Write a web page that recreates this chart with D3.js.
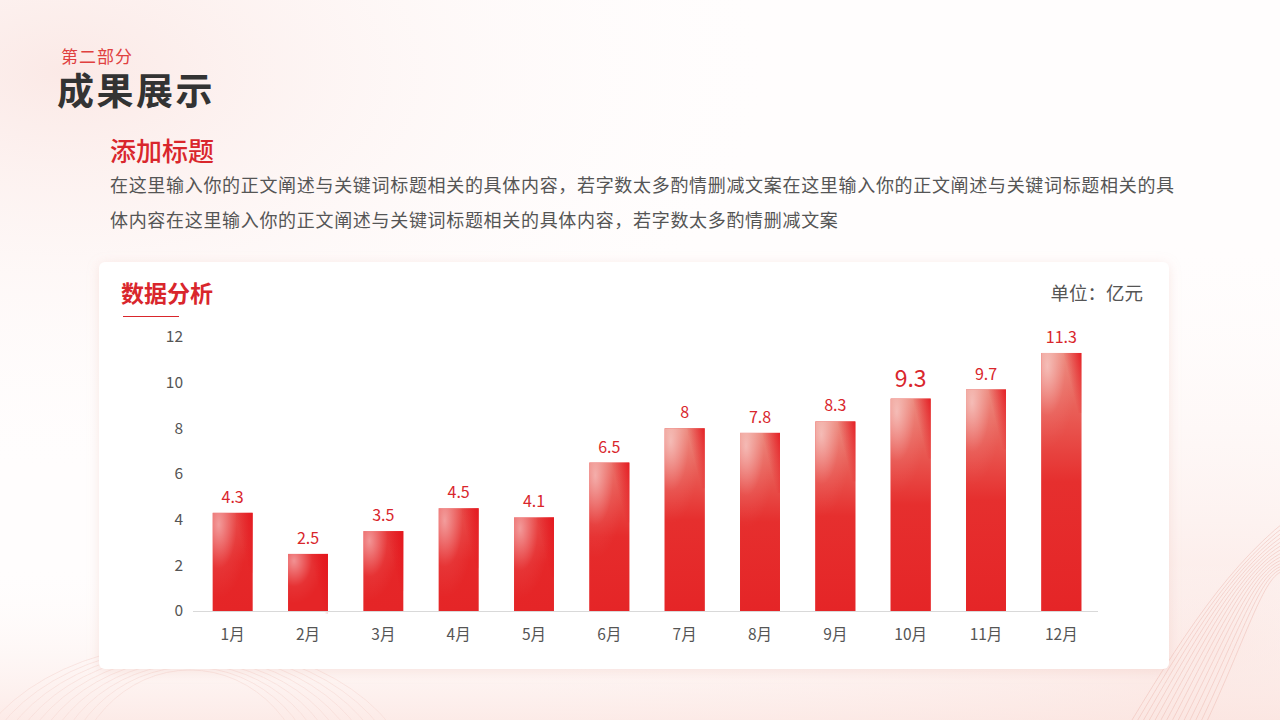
<!DOCTYPE html>
<html><head><meta charset="utf-8">
<script src="https://cdn.jsdelivr.net/npm/d3@7"></script>
<style>
html,body{margin:0;padding:0;width:1280px;height:720px;overflow:hidden;background:#fff;}
svg{display:block;font-family:"Noto Sans CJK SC","Noto Sans",sans-serif;}
</style></head>
<body>
<svg id="c" width="1280" height="720"></svg>
<script>
const categories = ["1月","2月","3月","4月","5月","6月","7月","8月","9月","10月","11月","12月"];
const values = [4.3,2.5,3.5,4.5,4.1,6.5,8,7.8,8.3,9.3,9.7,11.3];
const yTicks = [0,2,4,6,8,10,12];
const bodyLines = [
  "在这里输入你的正文阐述与关键词标题相关的具体内容，若字数太多酌情删减文案在这里输入你的正文阐述与关键词标题相关的具",
  "体内容在这里输入你的正文阐述与关键词标题相关的具体内容，若字数太多酌情删减文案"
];

const svg = d3.select("#c");
const defs = svg.append("defs");

// background glow
const bg = defs.append("radialGradient").attr("id","bgTL").attr("cx","0.05").attr("cy","0.1").attr("r","0.6");
bg.append("stop").attr("offset","0").attr("stop-color","#fbe9e6");
bg.append("stop").attr("offset","1").attr("stop-color","#ffffff").attr("stop-opacity","0");
const bg2 = defs.append("radialGradient").attr("id","bgBR").attr("cx","0.95").attr("cy","0.9").attr("r","0.6");
bg2.append("stop").attr("offset","0").attr("stop-color","#fbe6e2");
bg2.append("stop").attr("offset","1").attr("stop-color","#ffffff").attr("stop-opacity","0");
const bg3 = defs.append("linearGradient").attr("id","bgB").attr("x1","0").attr("y1","0").attr("x2","0").attr("y2","1");
bg3.append("stop").attr("offset","0").attr("stop-color","#fff").attr("stop-opacity","0");
bg3.append("stop").attr("offset","1").attr("stop-color","#fbe3de");

svg.append("rect").attr("width",1280).attr("height",720).attr("fill","#fffdfd");
svg.append("rect").attr("width",1280).attr("height",720).attr("fill","url(#bgTL)");
svg.append("rect").attr("width",1280).attr("height",720).attr("fill","url(#bgBR)");
svg.append("rect").attr("y",560).attr("width",1280).attr("height",160).attr("fill","url(#bgB)").attr("opacity",0.7);

// decorative lines bottom-right
const deco = svg.append("g").attr("fill","none").attr("stroke","#f0c4bc").attr("stroke-width",0.8).attr("opacity",0.8);
for (let i = 0; i < 14; i++) {
  const o = i * 6;
  deco.append("path").attr("d", `M${1120 + o},${740} C${1180 + o},${640 - o*0.3} ${1230 + o*0.5},${560 - o*0.2} ${1300},${510 + o*0.9}`);
}
// concentric arcs bottom-left
const arcs = svg.append("g").attr("fill","none").attr("stroke","#f6dad5").attr("stroke-width",0.8).attr("opacity",0.8);
for (let i = 0; i < 10; i++) {
  arcs.append("ellipse").attr("cx",190).attr("cy",800).attr("rx",120 + i*12).attr("ry",130 + i*3);
}

// header texts
svg.append("text").attr("x",61).attr("y",63).attr("font-size",17).attr("letter-spacing",1).attr("fill","#e0403f").text("第二部分");
svg.append("text").attr("x",57).attr("y",105).attr("font-size",37).attr("font-weight",700).attr("fill","#333").attr("letter-spacing",2.5).text("成果展示");
svg.append("text").attr("x",110).attr("y",161).attr("font-size",26).attr("font-weight",500).attr("fill","#d9262c").text("添加标题");
bodyLines.forEach((t,i)=>{
  svg.append("text").attr("x",110).attr("y",192 + i*35).attr("font-size",18).attr("letter-spacing",0.68).attr("fill","#555").text(t);
});

// card
const sh = defs.append("filter").attr("id","sh").attr("x","-5%").attr("y","-5%").attr("width","110%").attr("height","115%");
sh.append("feDropShadow").attr("dx",0).attr("dy",2).attr("stdDeviation",6).attr("flood-color","#e8b4ab").attr("flood-opacity",0.3);
svg.append("rect").attr("x",99).attr("y",262).attr("width",1070).attr("height",407).attr("rx",6).attr("fill","#fff").attr("filter","url(#sh)");

svg.append("text").attr("x",121).attr("y",302).attr("font-size",23).attr("font-weight",700).attr("fill","#d9262c").text("数据分析");
svg.append("line").attr("x1",123).attr("x2",179).attr("y1",316.5).attr("y2",316.5).attr("stroke","#d9262c").attr("stroke-width",1.2);
svg.append("text").attr("x",1143).attr("y",300).attr("text-anchor","end").attr("font-size",18.5).attr("fill","#555").text("单位：亿元");

// scales
const x = d3.scaleBand().domain(categories).range([195,1099]).paddingInner(0.47).paddingOuter(0.235);
const y = d3.scaleLinear().domain([0,12]).range([611,337]);

// gradients for bars
const lg = defs.append("linearGradient").attr("id","barLin").attr("x1","0").attr("y1","0").attr("x2","0").attr("y2","1");
lg.append("stop").attr("offset","0").attr("stop-color","#ec8e80");
lg.append("stop").attr("offset","0.5").attr("stop-color","#e6302f");
lg.append("stop").attr("offset","1").attr("stop-color","#e52527");
const rg = defs.append("radialGradient").attr("id","barRad").attr("cx","0.15").attr("cy","0.12").attr("r","0.75");
rg.append("stop").attr("offset","0").attr("stop-color","#fff").attr("stop-opacity","0.5");
rg.append("stop").attr("offset","0.6").attr("stop-color","#fff").attr("stop-opacity","0.06");
rg.append("stop").attr("offset","1").attr("stop-color","#fff").attr("stop-opacity","0");
const cg = defs.append("linearGradient").attr("id","barCorner").attr("x1","1").attr("y1","0").attr("x2","0.6").attr("y2","0.15");
cg.append("stop").attr("offset","0").attr("stop-color","#e4141c").attr("stop-opacity","0.9");
cg.append("stop").attr("offset","1").attr("stop-color","#e4141c").attr("stop-opacity","0");

const bars = svg.append("g");
bars.selectAll("rect.base").data(values).join("rect").attr("class","base")
  .attr("x",(d,i)=>x(categories[i])).attr("width",x.bandwidth())
  .attr("y",d=>y(d)).attr("height",d=>y(0)-y(d)).attr("fill","#e52527");
bars.selectAll("rect.lin").data(values).join("rect").attr("class","lin")
  .attr("x",(d,i)=>x(categories[i])).attr("width",x.bandwidth())
  .attr("y",d=>y(d)).attr("height",d=>y(0)-y(d)).attr("fill","url(#barLin)").attr("opacity",d=>Math.min(1,(d-3)/5)*0.9);
bars.selectAll("rect.rad").data(values).join("rect").attr("class","rad")
  .attr("x",(d,i)=>x(categories[i])).attr("width",x.bandwidth())
  .attr("y",d=>y(d)).attr("height",d=>Math.min(y(0)-y(d),110)).attr("fill","url(#barRad)");
bars.selectAll("rect.cor").data(values).join("rect").attr("class","cor")
  .attr("x",(d,i)=>x(categories[i])).attr("width",x.bandwidth())
  .attr("y",d=>y(d)).attr("height",60).attr("fill","url(#barCorner)");

// axis line
svg.append("line").attr("x1",193).attr("x2",1098).attr("y1",611.5).attr("y2",611.5).attr("stroke","#d9d9d9");

// y axis
const ya = svg.append("g").attr("transform","translate(183,0)")
  .call(d3.axisLeft(y).tickValues(yTicks).tickSize(0).tickPadding(0));
ya.select(".domain").remove();
ya.selectAll("text").attr("font-size",15.5).attr("fill","#555").attr("font-family","'Noto Sans CJK SC','Noto Sans',sans-serif");

// x axis
const xa = svg.append("g").attr("transform","translate(0,611)")
  .call(d3.axisBottom(x).tickSize(0).tickPadding(18));
xa.select(".domain").remove();
xa.selectAll("text").attr("font-size",15.5).attr("fill","#555").attr("font-family","'Noto Sans CJK SC','Noto Sans',sans-serif");

// value labels
svg.append("g").selectAll("text").data(values).join("text")
  .attr("x",(d,i)=>x(categories[i]) + x.bandwidth()/2)
  .attr("y",d=>y(d) - (d===9.3 ? 12 : 10))
  .attr("text-anchor","middle")
  .attr("font-size",d=>d===9.3 ? 23 : 16)
  .attr("fill","#d9262c")
  .text(d=>d);
</script>
</body></html>
